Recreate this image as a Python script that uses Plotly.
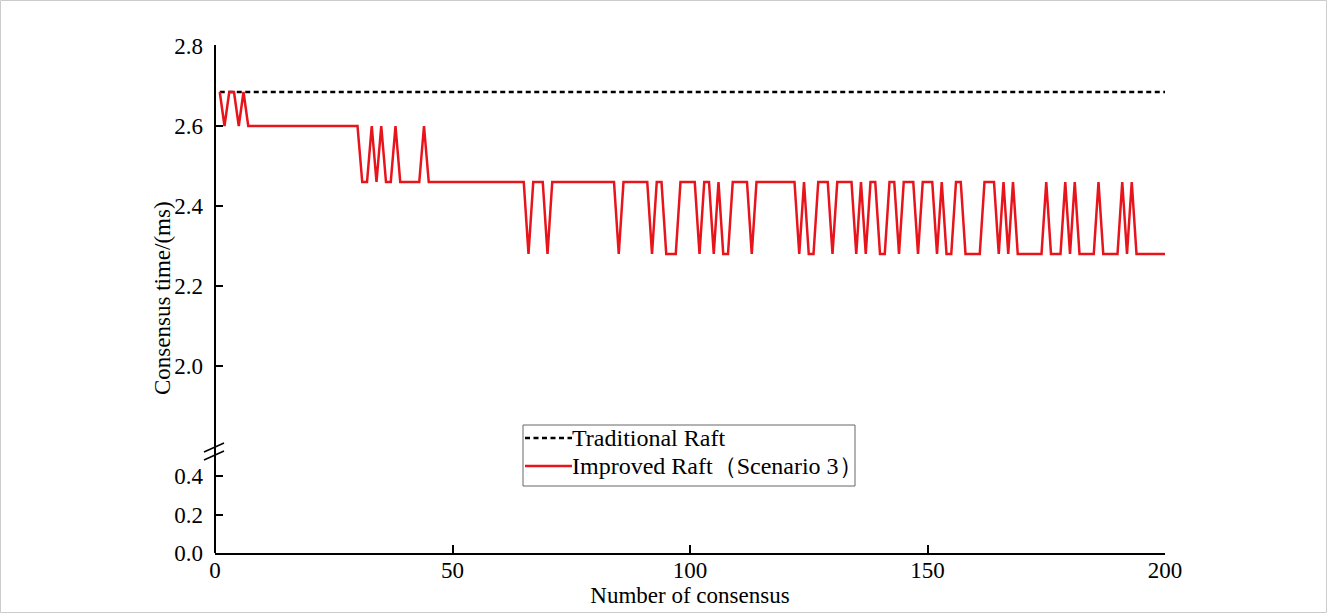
import plotly.graph_objects as go

# Consensus rounds 1..200
rounds = list(range(1, 201))

# Traditional Raft: constant consensus time (ms)
traditional = [2.685] * 200

# Improved Raft (Scenario 3): consensus time per round (ms), as runs of (value, count)
improved_runs = [
    (2.685, 1), (2.60, 1), (2.685, 2), (2.60, 1), (2.685, 1), (2.60, 24),
    (2.46, 2), (2.60, 1), (2.46, 1), (2.60, 1), (2.46, 2), (2.60, 1), (2.46, 5),
    (2.60, 1), (2.46, 21),
    (2.28, 1), (2.46, 3), (2.28, 1), (2.46, 14), (2.28, 1), (2.46, 6),
    (2.28, 1), (2.46, 2), (2.28, 3), (2.46, 4), (2.28, 1), (2.46, 2),
    (2.28, 1), (2.46, 1), (2.28, 2), (2.46, 4), (2.28, 1), (2.46, 9),
    (2.28, 1), (2.46, 1), (2.28, 2), (2.46, 3), (2.28, 1), (2.46, 4),
    (2.28, 1), (2.46, 1), (2.28, 1), (2.46, 2), (2.28, 2), (2.46, 2),
    (2.28, 1), (2.46, 3), (2.28, 1), (2.46, 3), (2.28, 1), (2.46, 1),
    (2.28, 2), (2.46, 2), (2.28, 4), (2.46, 3), (2.28, 1), (2.46, 1),
    (2.28, 1), (2.46, 1), (2.28, 6), (2.46, 1), (2.28, 3), (2.46, 1),
    (2.28, 1), (2.46, 1), (2.28, 4), (2.46, 1), (2.28, 4), (2.46, 1),
    (2.28, 1), (2.46, 1), (2.28, 7),
]
improved = [v for v, n in improved_runs for _ in range(n)]

series_names = ["Traditional Raft", "Improved Raft（Scenario 3）"]

x_ticks = [0, 50, 100, 150, 200]
upper_ticks = [2.0, 2.2, 2.4, 2.6, 2.8]
lower_ticks = [0.0, 0.2, 0.4]

FONT = "Liberation Serif"
RED = "#e8141c"
DASH = "5px,3.5px"
LW = 2.5

# Pixel geometry of the plotting area
W, H = 1328, 614
L, R, T, B = 215, 1165, 46, 553
pw, ph = R - L, B - T


def px(x):
    return (x - L) / pw


def py(y):
    return (B - y) / ph


lower_top = py(457)
upper_bottom = py(446)

fig = go.Figure()
# empty trace so the lower (0-0.5) panel exists and carries the x axis
fig.add_trace(go.Scatter(
    x=[], y=[], mode="lines", showlegend=False, hoverinfo="skip",
    xaxis="x", yaxis="y",
))
fig.add_trace(go.Scatter(
    x=rounds, y=traditional, mode="lines", name=series_names[0],
    line=dict(color="black", width=LW, dash=DASH),
    xaxis="x2", yaxis="y2",
))
fig.add_trace(go.Scatter(
    x=rounds, y=improved, mode="lines", name=series_names[1],
    line=dict(color=RED, width=LW),
    xaxis="x2", yaxis="y2",
))

axis_common = dict(
    showgrid=False, zeroline=False, automargin=False,
    ticks="inside", ticklen=8, tickwidth=1.5, tickcolor="black",
    tickfont=dict(family=FONT, size=23, color="black"),
)

# Legend box drawn as shapes + text, sized like the original key
leg_x0, leg_x1, leg_y0, leg_y1 = 523, 855, 425, 486
leg_rows = [438, 466]
legend_shapes = [
    dict(type="rect", xref="paper", yref="paper",
         x0=px(leg_x0), x1=px(leg_x1), y0=py(leg_y1), y1=py(leg_y0),
         fillcolor="white", line=dict(color="#666666", width=1), layer="above"),
    dict(type="line", xref="paper", yref="paper",
         x0=px(525), x1=px(572), y0=py(leg_rows[0]), y1=py(leg_rows[0]),
         line=dict(color="black", width=LW, dash=DASH), layer="above"),
    dict(type="line", xref="paper", yref="paper",
         x0=px(525), x1=px(572), y0=py(leg_rows[1]), y1=py(leg_rows[1]),
         line=dict(color=RED, width=LW), layer="above"),
]
legend_texts = [
    dict(text=name, xref="paper", yref="paper", x=px(570), y=py(row),
         xanchor="left", yanchor="middle", showarrow=False,
         font=dict(family=FONT, size=24, color="black"))
    for name, row in zip(series_names, leg_rows)
]

fig.update_layout(
    width=W, height=H,
    margin=dict(l=L, r=W - R, t=T, b=H - B, autoexpand=False),
    paper_bgcolor="white", plot_bgcolor="white",
    font=dict(family=FONT, color="black"),
    showlegend=False,
    xaxis=dict(
        range=[0, 200], tickvals=x_ticks, anchor="y",
        showline=True, linecolor="black", linewidth=2,
        ticklabelstandoff=-5,
        title=dict(text="Number of consensus", font=dict(family=FONT, size=23), standoff=2),
        **axis_common,
    ),
    xaxis2=dict(
        range=[0, 200], matches="x", anchor="y2", visible=False,
    ),
    yaxis=dict(
        domain=[0, lower_top], range=[0, 0.5], tickvals=lower_ticks,
        tickformat=".1f", anchor="x", showline=False, ticklabelstandoff=11,
        **axis_common,
    ),
    yaxis2=dict(
        domain=[upper_bottom, 1], range=[1.8, 2.8], tickvals=upper_ticks,
        tickformat=".1f", anchor="x2", showline=False, ticklabelstandoff=11,
        **axis_common,
    ),
    annotations=[dict(
        text="Consensus time/(ms)", xref="paper", yref="paper",
        x=px(162), y=py(298), xanchor="center", yanchor="middle",
        textangle=-90, showarrow=False,
        font=dict(family=FONT, size=23, color="black"),
    )] + legend_texts,
    shapes=[
        # continuous left axis line through the break
        dict(type="line", xref="paper", yref="paper",
             x0=0, x1=0, y0=0, y1=py(45), line=dict(color="black", width=2)),
        # axis break marks
        dict(type="line", xref="paper", yref="paper",
             x0=px(204), y0=py(452), x1=px(224), y1=py(443),
             line=dict(color="black", width=1.5)),
        dict(type="line", xref="paper", yref="paper",
             x0=px(204), y0=py(460), x1=px(224), y1=py(451),
             line=dict(color="black", width=1.5)),
        # thin frame round the figure
        dict(type="rect", xref="paper", yref="paper",
             x0=px(0.5), x1=px(W - 1.5), y0=py(H - 1.5), y1=py(0.5),
             line=dict(color="#cccccc", width=1)),
    ] + legend_shapes,
)

fig.write_html("out.html")
